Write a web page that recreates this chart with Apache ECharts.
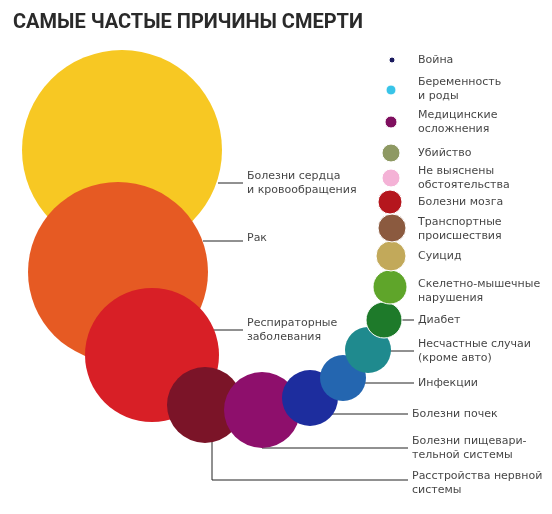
<!DOCTYPE html>
<html><head><meta charset="utf-8">
<script src="https://cdn.jsdelivr.net/npm/echarts@6/dist/echarts.min.js"></script>
<style>html,body{margin:0;padding:0;background:#fff}#c{width:552px;height:514px}</style>
</head><body><div id="c"></div>
<script>
// bubble data: x, y, radius
const bubbleX = [122,118,152,205,262,310,343,368,384,390,391,392,390,391,391,391,391,392];
const bubbleY = [150,272,355,405,410,398,378,350,320,287,256,228,202,178,153,122,90,60];
const bubbleR = [100,90,67,38,38,28,23,23,18,17,15,14,12,9,9,6,5,3];
const bubbleColors = ['#F7C823','#E65A23','#D81F26','#7B1428','#8E0F6C','#1D2D9E','#2466B0','#1F8A8E','#1E7A2A','#5FA52A','#C2A95A','#8B5A3F','#B5161D','#F4B2D6','#8E9963','#7F0F5F','#38C4E8','#1B1B5E'];
const labels = ['Болезни сердца\nи кровообращения','Рак','Респираторные\nзаболевания','Расстройства нервной\nсистемы','Болезни пищевари-\nтельной системы','Болезни почек','Инфекции','Несчастные случаи\n(кроме авто)','Диабет','Скелетно-мышечные\nнарушения','Суицид','Транспортные\nпроисшествия','Болезни мозга','Не выяснены\nобстоятельства','Убийство','Медицинские\nосложнения','Беременность\nи роды','Война'];
const labelX = [245,245,245,410,410,410,416,416,416,416,416,416,416,416,416,416,416,416];
const labelY = [183,238,330,483,448,414,383,351,320,291,256,229,202,178,153,122,89,60];
// leader lines: polyline points
const leaders = [
 [[218,183],[243,183]],
 [[203,241],[243,241]],
 [[214,330],[243,330]],
 [[212,440],[212,480],[408,480]],
 [[262,446],[262,448],[408,448]],
 [[310,414],[408,414]],
 [[350,383],[414,383]],
 [[390,351],[414,351]],
 [[400,320],[414,320]]
];
const chart = echarts.init(document.getElementById('c'));
chart.setOption({
 animation:false,
 title:{text:'САМЫЕ ЧАСТЫЕ ПРИЧИНЫ СМЕРТИ',left:8,top:8,textStyle:{fontFamily:'Liberation Sans Narrow, Roboto',fontWeight:'bold',fontSize:20,color:'#2a2a2a'}},
 grid:{left:0,right:0,top:0,bottom:0},
 xAxis:{type:'value',min:0,max:552,show:false},
 yAxis:{type:'value',min:0,max:514,inverse:true,show:false},
 series:[
  {type:'lines',coordinateSystem:'cartesian2d',polyline:true,z:1,
   lineStyle:{color:'#222',width:1,opacity:1},
   data:leaders.map(c=>({coords:c}))},
  {type:'scatter',z:2,
   data:bubbleX.map((x,i)=>({value:[x,bubbleY[i],bubbleR[i]],itemStyle:{color:bubbleColors[i],opacity:1,borderColor:'#fff',borderWidth:i<8?0:1}})),
   symbolSize:v=>v[2]*2},
  {type:'scatter',z:3,symbolSize:0,
   data:labelX.map((x,i)=>({value:[x,labelY[i]],name:labels[i]})),
   label:{show:true,position:'right',distance:2,formatter:p=>p.name,color:'#111',fontSize:11,lineHeight:14,fontFamily:'DejaVu Sans'}}
 ]
});
</script></body></html>
